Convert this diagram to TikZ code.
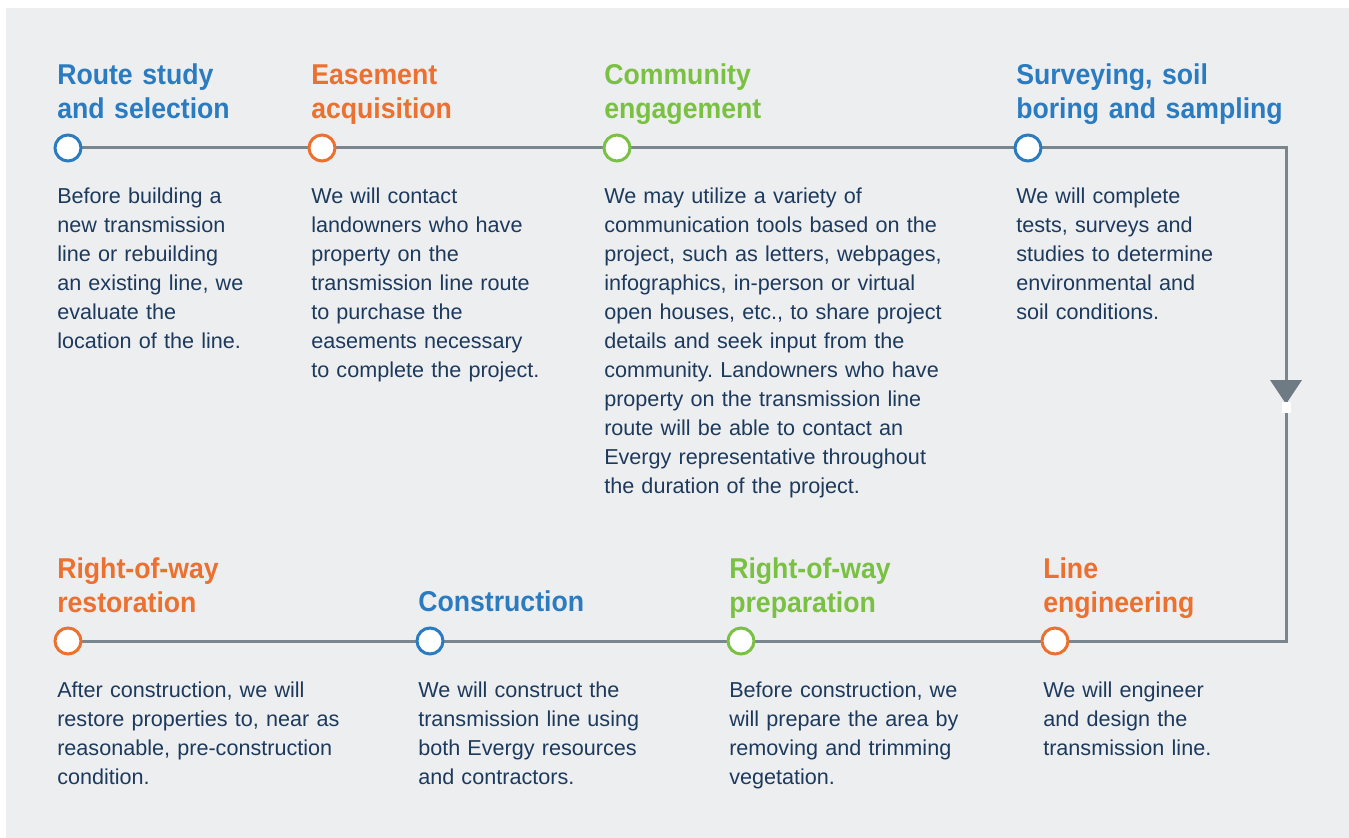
\documentclass[tikz,border=0pt]{standalone}
\usepackage{fontspec}
\setmainfont{Liberation Sans}
\newfontfamily\ttlfont{Liberation Sans}[FakeStretch=0.93]
\definecolor{bg}{HTML}{EDEEF0}
\definecolor{ln}{HTML}{7A868E}
\definecolor{arw}{HTML}{6F7B84}
\definecolor{cblue}{HTML}{2A7BC0}
\definecolor{corange}{HTML}{EC7030}
\definecolor{cgreen}{HTML}{7AC143}
\definecolor{txt}{HTML}{1D3A5C}
\frenchspacing
\begin{document}
\begin{tikzpicture}[x=0.75pt,y=-0.75pt,
  conn/.style={draw=ln,line width=2.25pt},
  dot/.style={circle,draw=#1,fill=white,line width=2.25pt,minimum size=19.5pt,inner sep=0},
  ttl/.style={anchor=base west,inner sep=0,text width=400pt,align=left,text=#1,
    font=\ttlfont\bfseries\fontsize{21.5}{25.5}\selectfont},
  body/.style={anchor=base west,inner sep=0,text width=400pt,align=left,text=txt,
    font=\fontsize{16.2}{21.75}\selectfont}]
\useasboundingbox (0,0) rectangle (1349,838);
\fill[white] (0,0) rectangle (1349,838);
\fill[bg] (6,8) rectangle (1349,838);
% path points
\coordinate (p1) at (68,148);
\coordinate (p2) at (322,148);
\coordinate (p3) at (617,148);
\coordinate (p4) at (1028,148);
\coordinate (k1) at (1286,148);
\coordinate (k2) at (1286,641);
\coordinate (q4) at (1055,641);
\coordinate (q3) at (741,641);
\coordinate (q2) at (430,641);
\coordinate (q1) at (68,641);
\coordinate (arr) at (1286,392);
\draw[conn] (p1) -- (p4) -- (k1) -- (k2) -- (q4) -- (q1);
% arrow head
\fill[arw] ([shift={(-16,-12)}]arr) -- ([shift={(16,-12)}]arr) -- ([shift={(0,12)}]arr) -- cycle;
\fill[white] ([shift={(-4.5,10)}]arr) rectangle ([shift={(4.5,21)}]arr);
% circles
\node[dot=cblue] (c1) at (p1) {};
\node[dot=corange] (c2) at (p2) {};
\node[dot=cgreen] (c3) at (p3) {};
\node[dot=cblue] (c4) at (p4) {};
\node[dot=corange] (d1) at (q1) {};
\node[dot=cblue] (d2) at (q2) {};
\node[dot=cgreen] (d3) at (q3) {};
\node[dot=corange] (d4) at (q4) {};
% top titles
\node[ttl=cblue] (t1) at (57,85) {Route study\\and selection};
\node[ttl=corange] (t2) at (311,85) {Easement\\acquisition};
\node[ttl=cgreen] (t3) at (604,85) {Community\\engagement};
\node[ttl=cblue] (t4) at (1016,85) {Surveying, soil\\boring and sampling};
% top bodies
\node[body] (b1) at (57,204) {Before building a\\new transmission\\line or rebuilding\\an existing line, we\\evaluate the\\location of the line.};
\node[body] (b2) at (311,204) {We will contact\\landowners who have\\property on the\\transmission line route\\to purchase the\\easements necessary\\to complete the project.};
\node[body] (b3) at (604,204) {We may utilize a variety of\\communication tools based on the\\project, such as letters, webpages,\\infographics, in-person or virtual\\open houses, etc., to share project\\details and seek input from the\\community. Landowners who have\\property on the transmission line\\route will be able to contact an\\Evergy representative throughout\\the duration of the project.};
\node[body] (b4) at (1016,204) {We will complete\\tests, surveys and\\studies to determine\\environmental and\\soil conditions.};
% bottom titles
\node[ttl=corange] (u1) at (57,578) {Right-of-way\\restoration};
\node[ttl=cblue] (u2) at (418,611) {Construction};
\node[ttl=cgreen] (u3) at (729,578) {Right-of-way\\preparation};
\node[ttl=corange] (u4) at (1043,578) {Line\\engineering};
% bottom bodies
\node[body] (e1) at (57,697) {After construction, we will\\restore properties to, near as\\reasonable, pre-construction\\condition.};
\node[body] (e2) at (418,697) {We will construct the\\transmission line using\\both Evergy resources\\and contractors.};
\node[body] (e3) at (729,697) {Before construction, we\\will prepare the area by\\removing and trimming\\vegetation.};
\node[body] (e4) at (1043,697) {We will engineer\\and design the\\transmission line.};
\end{tikzpicture}
\end{document}
